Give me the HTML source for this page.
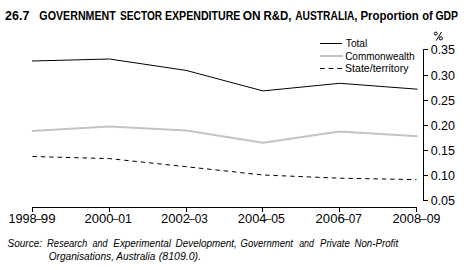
<!DOCTYPE html>
<html><head><meta charset="utf-8"><style>
html,body{margin:0;padding:0;background:#fff;width:468px;height:270px;overflow:hidden}
svg{display:block}
text{font-family:"Liberation Sans", sans-serif;fill:#000}
</style></head><body>
<svg width="468" height="270" viewBox="0 0 468 270">
<rect x="35.30" y="219" width="6.70" height="1" fill="#444"/>
<rect x="112.20" y="219" width="6.00" height="1" fill="#444"/>
<rect x="188.80" y="219" width="5.90" height="1" fill="#444"/>
<rect x="265.20" y="219" width="6.00" height="1" fill="#444"/>
<rect x="343.30" y="219" width="5.40" height="1" fill="#444"/>
<rect x="419.70" y="219" width="7.00" height="1" fill="#444"/>
<ellipse cx="435.8" cy="33.6" rx="1.45" ry="1.5" fill="none" stroke="#000" stroke-width="1"/>
<ellipse cx="440.9" cy="38.4" rx="1.6" ry="1.55" fill="none" stroke="#000" stroke-width="1"/>
<line x1="441.5" y1="32.0" x2="436.2" y2="40.6" stroke="#000" stroke-width="1"/>
<rect x="423" y="49" width="1" height="152" fill="#000"/>
<rect x="424" y="49" width="4" height="1" fill="#000"/>
<rect x="424" y="75" width="4" height="1" fill="#000"/>
<rect x="424" y="100" width="4" height="1" fill="#000"/>
<rect x="424" y="125" width="4" height="1" fill="#000"/>
<rect x="424" y="150" width="4" height="1" fill="#000"/>
<rect x="424" y="175" width="4" height="1" fill="#000"/>
<rect x="424" y="200" width="4" height="1" fill="#000"/>
<rect x="32" y="207" width="385" height="1" fill="#000"/>
<rect x="32" y="208" width="1" height="4" fill="#000"/>
<rect x="109" y="208" width="1" height="4" fill="#000"/>
<rect x="186" y="208" width="1" height="4" fill="#000"/>
<rect x="262" y="208" width="1" height="4" fill="#000"/>
<rect x="339" y="208" width="1" height="4" fill="#000"/>
<rect x="416" y="208" width="1" height="4" fill="#000"/>
<polyline points="31.90,131.00 109.30,126.50 186.10,130.60 262.90,142.70 339.70,131.50 417.60,136.20" fill="none" stroke="#c4c4c4" stroke-width="2"/>
<polyline points="32.50,156.50 109.30,158.60 186.10,166.70 262.90,175.00 339.70,178.20 416.50,179.60" fill="none" stroke="#000" stroke-width="1" stroke-dasharray="4.5,3.84"/>
<polyline points="32.00,61.00 109.30,59.00 186.10,70.40 262.90,90.90 339.70,83.30 417.50,89.20" fill="none" stroke="#000" stroke-width="1"/>
<rect x="320" y="43" width="22" height="1" fill="#000"/>
<rect x="320" y="55" width="23" height="2" fill="#c4c4c4"/>
<line x1="320" y1="68.5" x2="342" y2="68.5" stroke="#000" stroke-width="1" stroke-dasharray="4.7,3.95"/>
<text x="5.10" y="20" font-size="12.5" font-weight="bold" font-style="normal" textLength="24.24" lengthAdjust="spacingAndGlyphs">26.7</text>
<text x="39.35" y="20" font-size="12.5" font-weight="bold" font-style="normal" textLength="76.51" lengthAdjust="spacingAndGlyphs">GOVERNMENT</text>
<text x="120.09" y="20" font-size="12.5" font-weight="bold" font-style="normal" textLength="42.12" lengthAdjust="spacingAndGlyphs">SECTOR</text>
<text x="164.95" y="20" font-size="12.5" font-weight="bold" font-style="normal" textLength="75.42" lengthAdjust="spacingAndGlyphs">EXPENDITURE</text>
<text x="242.85" y="20" font-size="12.5" font-weight="bold" font-style="normal" textLength="17.87" lengthAdjust="spacingAndGlyphs">ON</text>
<text x="263.48" y="20" font-size="12.5" font-weight="bold" font-style="normal" textLength="28.03" lengthAdjust="spacingAndGlyphs">R&amp;D,</text>
<text x="295.20" y="20" font-size="12.5" font-weight="bold" font-style="normal" textLength="62.08" lengthAdjust="spacingAndGlyphs">AUSTRALIA,</text>
<text x="360.49" y="20" font-size="12.5" font-weight="bold" font-style="normal" textLength="58.33" lengthAdjust="spacingAndGlyphs">Proportion</text>
<text x="422.20" y="20" font-size="12.5" font-weight="bold" font-style="normal" textLength="10.53" lengthAdjust="spacingAndGlyphs">of</text>
<text x="435.47" y="20" font-size="12.5" font-weight="bold" font-style="normal" textLength="22.61" lengthAdjust="spacingAndGlyphs">GDP</text>
<text x="345.80" y="47" font-size="11.5" font-weight="normal" font-style="normal" textLength="21.46" lengthAdjust="spacingAndGlyphs">Total</text>
<text x="345.13" y="60" font-size="11.5" font-weight="normal" font-style="normal" textLength="69.46" lengthAdjust="spacingAndGlyphs">Commonwealth</text>
<text x="345.08" y="72" font-size="11.5" font-weight="normal" font-style="normal" textLength="63.35" lengthAdjust="spacingAndGlyphs">State/territory</text>
<text x="430.70" y="54" font-size="12.5" font-weight="normal" font-style="normal" textLength="24.34" lengthAdjust="spacingAndGlyphs">0.35</text>
<text x="430.70" y="80" font-size="12.5" font-weight="normal" font-style="normal" textLength="24.34" lengthAdjust="spacingAndGlyphs">0.30</text>
<text x="430.70" y="105" font-size="12.5" font-weight="normal" font-style="normal" textLength="24.34" lengthAdjust="spacingAndGlyphs">0.25</text>
<text x="430.70" y="130" font-size="12.5" font-weight="normal" font-style="normal" textLength="24.34" lengthAdjust="spacingAndGlyphs">0.20</text>
<text x="430.70" y="155" font-size="12.5" font-weight="normal" font-style="normal" textLength="24.34" lengthAdjust="spacingAndGlyphs">0.15</text>
<text x="430.70" y="180" font-size="12.5" font-weight="normal" font-style="normal" textLength="24.34" lengthAdjust="spacingAndGlyphs">0.10</text>
<text x="430.70" y="205" font-size="12.5" font-weight="normal" font-style="normal" textLength="24.34" lengthAdjust="spacingAndGlyphs">0.05</text>
<text x="8.55" y="223" font-size="12" font-weight="normal" font-style="normal" textLength="28.09" lengthAdjust="spacingAndGlyphs">1998</text>
<text x="40.89" y="223" font-size="12" font-weight="normal" font-style="normal" textLength="14.81" lengthAdjust="spacingAndGlyphs">99</text>
<text x="84.51" y="223" font-size="12" font-weight="normal" font-style="normal" textLength="29.05" lengthAdjust="spacingAndGlyphs">2000</text>
<text x="118.20" y="223" font-size="12" font-weight="normal" font-style="normal" textLength="13.67" lengthAdjust="spacingAndGlyphs">01</text>
<text x="161.01" y="223" font-size="12" font-weight="normal" font-style="normal" textLength="29.16" lengthAdjust="spacingAndGlyphs">2002</text>
<text x="194.70" y="223" font-size="12" font-weight="normal" font-style="normal" textLength="13.15" lengthAdjust="spacingAndGlyphs">03</text>
<text x="237.82" y="223" font-size="12" font-weight="normal" font-style="normal" textLength="28.73" lengthAdjust="spacingAndGlyphs">2004</text>
<text x="271.20" y="223" font-size="12" font-weight="normal" font-style="normal" textLength="13.67" lengthAdjust="spacingAndGlyphs">05</text>
<text x="315.61" y="223" font-size="12" font-weight="normal" font-style="normal" textLength="29.05" lengthAdjust="spacingAndGlyphs">2006</text>
<text x="348.70" y="223" font-size="12" font-weight="normal" font-style="normal" textLength="13.15" lengthAdjust="spacingAndGlyphs">07</text>
<text x="392.43" y="223" font-size="12" font-weight="normal" font-style="normal" textLength="28.63" lengthAdjust="spacingAndGlyphs">2008</text>
<text x="426.70" y="223" font-size="12" font-weight="normal" font-style="normal" textLength="13.77" lengthAdjust="spacingAndGlyphs">09</text>
<text x="7.49" y="247" font-size="11" font-weight="normal" font-style="italic" textLength="34.55" lengthAdjust="spacingAndGlyphs">Source:</text>
<text x="46.90" y="247" font-size="11" font-weight="normal" font-style="italic" textLength="40.47" lengthAdjust="spacingAndGlyphs">Research</text>
<text x="92.50" y="247" font-size="11" font-weight="normal" font-style="italic" textLength="14.98" lengthAdjust="spacingAndGlyphs">and</text>
<text x="113.30" y="247" font-size="11" font-weight="normal" font-style="italic" textLength="57.68" lengthAdjust="spacingAndGlyphs">Experimental</text>
<text x="175.60" y="247" font-size="11" font-weight="normal" font-style="italic" textLength="61.19" lengthAdjust="spacingAndGlyphs">Development,</text>
<text x="240.53" y="247" font-size="11" font-weight="normal" font-style="italic" textLength="52.46" lengthAdjust="spacingAndGlyphs">Government</text>
<text x="299.20" y="247" font-size="11" font-weight="normal" font-style="italic" textLength="14.78" lengthAdjust="spacingAndGlyphs">and</text>
<text x="320.10" y="247" font-size="11" font-weight="normal" font-style="italic" textLength="29.62" lengthAdjust="spacingAndGlyphs">Private</text>
<text x="354.50" y="247" font-size="11" font-weight="normal" font-style="italic" textLength="43.59" lengthAdjust="spacingAndGlyphs">Non-Profit</text>
<text x="48.68" y="260" font-size="11" font-weight="normal" font-style="italic" textLength="65.28" lengthAdjust="spacingAndGlyphs">Organisations,</text>
<text x="116.30" y="260" font-size="11" font-weight="normal" font-style="italic" textLength="39.03" lengthAdjust="spacingAndGlyphs">Australia</text>
<text x="158.74" y="260" font-size="11" font-weight="normal" font-style="italic" textLength="42.35" lengthAdjust="spacingAndGlyphs">(8109.0).</text>
</svg>
</body></html>
